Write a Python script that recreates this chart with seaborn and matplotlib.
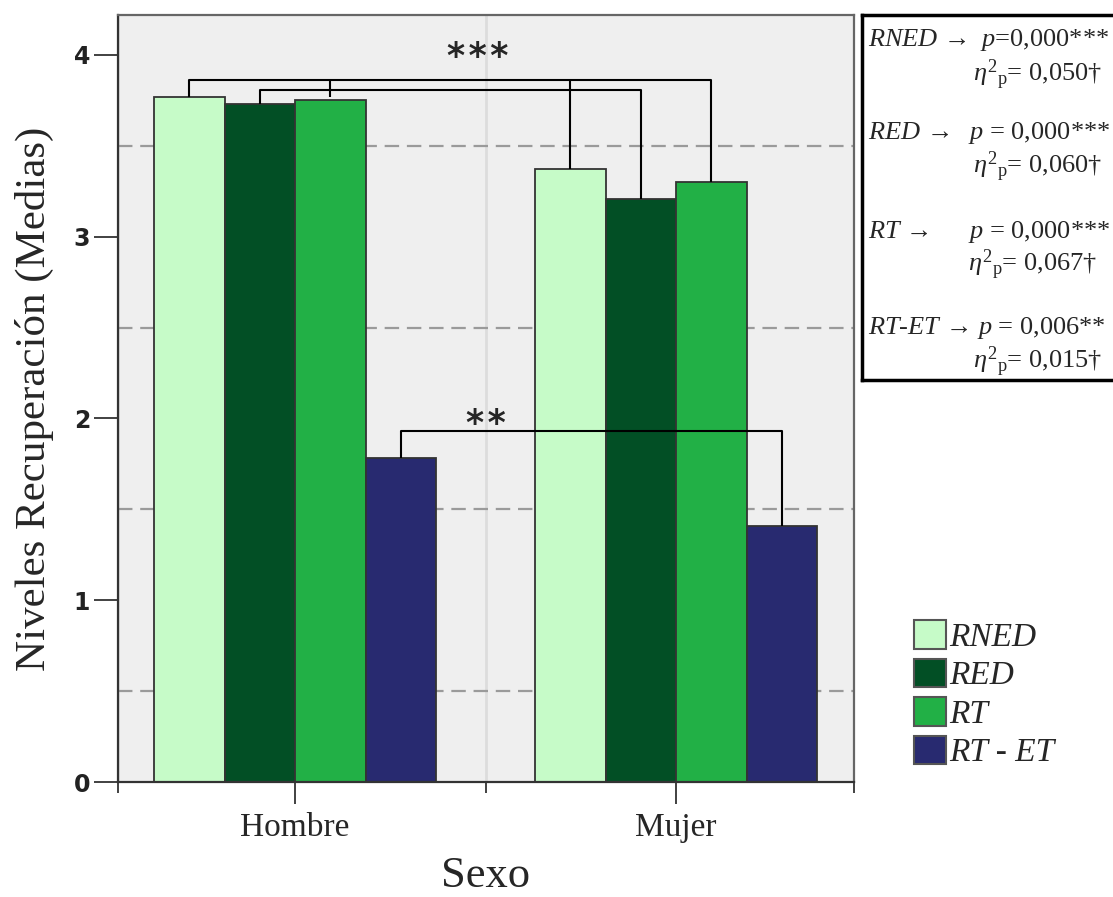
import numpy as np
import pandas as pd
import matplotlib
matplotlib.use("Agg")
import matplotlib.pyplot as plt
import seaborn as sns
from matplotlib.ticker import FixedLocator
from matplotlib.font_manager import FontProperties

# ---------------- data ----------------
sexo = ["Hombre", "Mujer"]
medidas = ["RNED", "RED", "RT", "RT - ET"]
rned = [3.77, 3.37]
red = [3.73, 3.21]
rt = [3.75, 3.30]
rt_et = [1.78, 1.41]
colores = ["#c6fbc8", "#024f25", "#22b046", "#282a70"]
y_ticks = [0, 1, 2, 3, 4]
y_grid = [0.5, 1.5, 2.5, 3.5]

stat_left = [r"$RNED$ →", r"$RED$ →", r"$RT$ →", r"$RT$-$ET$ → $p$ = 0,006**"]
stat_p = [r"$p$=0,000***", r"$p$ = 0,000***", r"$p$ = 0,000***", ""]
stat_eta = [r"$\eta^{2}{}_{\mathrm{p}}$= 0,050†", r"$\eta^{2}{}_{\mathrm{p}}$= 0,060†",
            r"$\eta^{2}{}_{\mathrm{p}}$= 0,067†", r"$\eta^{2}{}_{\mathrm{p}}$= 0,015†"]

df = pd.DataFrame({
    "Sexo": sexo * 4,
    "Medida": np.repeat(medidas, 2),
    "Media": rned + red + rt + rt_et,
})

# ---------------- style ----------------
sns.set_theme(style="white")
plt.rcParams["font.family"] = ["Liberation Serif", "DejaVu Serif"]
plt.rcParams["mathtext.fontset"] = "custom"
plt.rcParams["mathtext.rm"] = "Liberation Serif"
plt.rcParams["mathtext.it"] = "Liberation Serif:italic"
plt.rcParams["mathtext.bf"] = "Liberation Serif:bold"
plt.rcParams["xtick.bottom"] = True
plt.rcParams["ytick.left"] = True

W, H = 1113, 897
fig = plt.figure(figsize=(W / 100, H / 100), dpi=100)
ax = fig.add_axes([118 / W, 1 - 782 / H, (854 - 118) / W, (782 - 15) / H])
ax.set_facecolor("#efefef")

sns.barplot(data=df, x="Sexo", y="Media", hue="Medida", order=sexo,
            hue_order=medidas, palette=colores, saturation=1, width=0.74,
            edgecolor="#333333", linewidth=1.3, errorbar=None, ax=ax)

ax.set_xlim(-0.465, 1.467)
ax.set_ylim(0, 4.22)

# grid
ax.set_axisbelow(True)
ax.yaxis.set_major_locator(FixedLocator(y_ticks))
ax.yaxis.set_minor_locator(FixedLocator(y_grid))
ax.grid(False)
ax.grid(which="minor", axis="y", color="#9a9a9a", lw=1.6, ls=(0, (6.5, 3.5)))
ax.xaxis.set_minor_locator(FixedLocator([-0.465, 0.5, 1.467]))
ax.grid(which="minor", axis="x", color="#dcdcdc", lw=2.0)

# ticks
ax.tick_params(axis="y", which="major", left=True, direction="out", length=17,
               width=1.3, color="#333333", pad=3, labelsize=17, labelcolor="#222222")
ax.tick_params(axis="y", which="minor", left=False, length=0)
ax.tick_params(axis="x", which="major", bottom=True, direction="out", length=16,
               width=1.3, color="#333333", pad=6, labelsize=24)
ax.tick_params(axis="x", which="minor", bottom=True, direction="out", length=8,
               width=1.3, color="#333333")
for lab in ax.get_yticklabels():
    lab.set_fontfamily("DejaVu Sans")
    lab.set_fontweight("bold")

for side in ["left", "bottom"]:
    ax.spines[side].set_color("#333333")
    ax.spines[side].set_linewidth(1.6)
for side in ["top", "right"]:
    ax.spines[side].set_color("#666666")
    ax.spines[side].set_linewidth(1.6)

ax.set_xlabel("Sexo", fontsize=32, labelpad=9)
ax.set_ylabel("Niveles Recuperación (Medias)", fontsize=31, labelpad=14)

# ---------------- significance brackets ----------------
cx = [[b.get_x() + b.get_width() / 2 for b in c] for c in ax.containers]
cy = [[b.get_height() for b in c] for c in ax.containers]

def seg(xs, ys):
    ax.plot(xs, ys, color="black", lw=1.5, zorder=6, solid_capstyle="butt")

y_out, y_in, y_low = 3.86, 3.81, 1.93
# outer bracket RNED & RT
seg([cx[0][0], cx[0][0], cx[2][1], cx[2][1]], [cy[0][0], y_out, y_out, cy[2][1]])
seg([cx[2][0], cx[2][0]], [y_out, cy[2][0] + 0.02])
seg([cx[0][1], cx[0][1]], [y_out, cy[0][1]])
# inner bracket RED
seg([cx[1][0], cx[1][0], cx[1][1], cx[1][1]], [cy[1][0], y_in, y_in, cy[1][1]])
# lower bracket RT - ET
seg([cx[3][0], cx[3][0], cx[3][1], cx[3][1]], [cy[3][0], y_low, y_low, cy[3][1]])

ax.text(0.48, 3.99, "*\u200a*\u200a*", ha="center", va="center", fontsize=25,
        family="DejaVu Sans", fontweight="bold", zorder=7)
ax.text(0.50, 1.97, "*\u200a*", ha="center", va="center", fontsize=25,
        family="DejaVu Sans", fontweight="bold", zorder=7)

# ---------------- legend ----------------
handles, labels = ax.get_legend_handles_labels()
ax.get_legend().remove()
for h in handles:
    h.set_edgecolor("#555555")
    h.set_linewidth(1.5)
fig.legend(handles, labels, loc="upper left",
           bbox_to_anchor=(914 / W, 1 - 620 / H), bbox_transform=fig.transFigure,
           frameon=False, borderpad=0, borderaxespad=0,
           handlelength=0.95, handleheight=0.95, labelspacing=0.17,
           handletextpad=0.12,
           prop=FontProperties(family="Liberation Serif", style="italic", size=24))

# ---------------- statistics box ----------------
bax = fig.add_axes([862 / W, 1 - 380 / H, 1 - 862 / W + 0.01, (380 - 15) / H])
bax.set_xticks([])
bax.set_yticks([])
bax.set_facecolor("white")
for s in bax.spines.values():
    s.set_color("black")
    s.set_linewidth(2.5)

fs = 19
rows_top = [40, 133, 232, 328]
rows_eta = [75, 167, 265, 362]
p_x = [980, 968, 968, 0]
eta_x = [973, 973, 968, 973]
for i in range(4):
    fig.text(868 / W, 1 - rows_top[i] / H, stat_left[i], fontsize=fs, va="center", ha="left")
    if stat_p[i]:
        fig.text(p_x[i] / W, 1 - rows_top[i] / H, stat_p[i], fontsize=fs, va="center", ha="left")
    fig.text(eta_x[i] / W, 1 - rows_eta[i] / H, stat_eta[i], fontsize=fs, va="center", ha="left")

fig.savefig("out.png", dpi=100)
